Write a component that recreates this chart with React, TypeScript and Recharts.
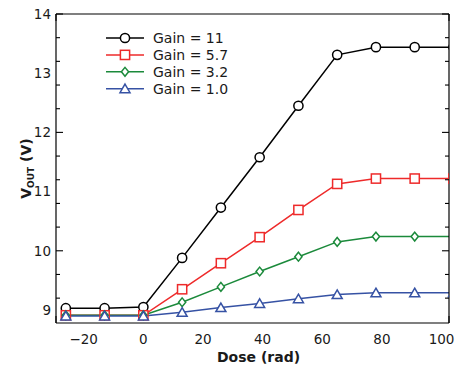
import { LineChart, Line, XAxis, YAxis, Legend } from 'recharts';

// last dose lies past the right frame: the flat lines run out to the edge
const dose = [-26, -13, 0, 13, 26, 39, 52, 65, 78, 91, 104];
const gain11 = [9.03, 9.03, 9.05, 9.88, 10.73, 11.58, 12.45, 13.31, 13.44, 13.44, 13.44];
const gain57 = [8.91, 8.91, 8.91, 9.35, 9.79, 10.23, 10.69, 11.13, 11.22, 11.22, 11.22];
const gain32 = [8.91, 8.91, 8.91, 9.13, 9.39, 9.65, 9.9, 10.15, 10.24, 10.24, 10.24];
const gain10 = [8.9, 8.9, 8.9, 8.96, 9.04, 9.11, 9.19, 9.26, 9.29, 9.29, 9.29];

const xMajor = [-20, 0, 20, 40, 60, 80, 100];
const xMinor = [-20, -10, 0, 10, 20, 30, 40, 50, 60, 70, 80, 90, 100];
const yMajor = [9, 10, 11, 12, 13, 14];
const yMinor = [9, 9.2, 9.4, 9.6, 9.8, 10, 10.2, 10.4, 10.6, 10.8, 11, 11.2, 11.4, 11.6, 11.8, 12, 12.2, 12.4, 12.6, 12.8, 13, 13.2, 13.4, 13.6, 13.8, 14];

const X_DOMAIN = [-29.3, 102.5];
const Y_DOMAIN = [8.78, 14];
const FONT = '"DejaVu Sans", sans-serif';

const SERIES = [
  { key: 'g11', name: 'Gain = 11', color: '#000000', shape: 'circle' },
  { key: 'g57', name: 'Gain = 5.7', color: '#ee2a2a', shape: 'square' },
  { key: 'g32', name: 'Gain = 3.2', color: '#1b8a3b', shape: 'diamond' },
  { key: 'g10', name: 'Gain = 1.0', color: '#3652a4', shape: 'triangle' },
];

const data = dose.map((d, i) => ({ dose: d, g11: gain11[i], g57: gain57[i], g32: gain32[i], g10: gain10[i] }));

function Marker({ shape, color, cx, cy }: { shape: string; color: string; cx: number; cy: number }) {
  const common = { fill: '#fff', stroke: color, strokeWidth: 1.5 };
  if (shape === 'circle') return <circle cx={cx} cy={cy} r={4.6} {...common} />;
  if (shape === 'square') return <rect x={cx - 4.6} y={cy - 4.6} width={9.2} height={9.2} {...common} />;
  if (shape === 'diamond')
    return <polygon points={`${cx},${cy - 4.4} ${cx + 3.6},${cy} ${cx},${cy + 4.4} ${cx - 3.6},${cy}`} {...common} />;
  return <polygon points={`${cx},${cy - 4.6} ${cx + 5},${cy + 4} ${cx - 5},${cy + 4}`} {...common} />;
}

function LegendBox() {
  return (
    <svg width={150} height={72}>
      {SERIES.map((s, i) => {
        const y = 10 + i * 16.9;
        return (
          <g key={s.key}>
            <line x1={6} x2={44} y1={y} y2={y} stroke={s.color} strokeWidth={1.5} />
            <Marker shape={s.shape} color={s.color} cx={25} cy={y} />
            <text x={53} y={y + 5} fontSize={14} fontFamily={FONT} fill="#1a1a1a">{s.name}</text>
          </g>
        );
      })}
    </svg>
  );
}

// inward tick marks, long on the major values, short elsewhere
function makeTick(dir: 'up' | 'down' | 'left' | 'right', majors: number[]) {
  return (p: any) => {
    const len = majors.includes(p.payload.value) ? 7 : 4;
    const dx = dir === 'right' ? len : dir === 'left' ? -len : 0;
    const dy = dir === 'down' ? len : dir === 'up' ? -len : 0;
    return <line x1={p.x} y1={p.y} x2={p.x + dx} y2={p.y + dy} stroke="#000" strokeWidth={1.1} />;
  };
}

function YLabel(props: any) {
  const vb = props.viewBox || { x: 0, y: 0, width: 56, height: 309 };
  const cx = vb.x + 26;
  const cy = vb.y + vb.height / 2;
  return (
    <text transform={`translate(${cx},${cy}) rotate(-90)`} textAnchor="middle" fontFamily={FONT} fontWeight="bold" fill="#1a1a1a" dy={5}>
      <tspan fontSize={14}>V</tspan>
      <tspan fontSize={9} dy={3}>OUT</tspan>
      <tspan fontSize={14} dy={-3}> (V)</tspan>
    </text>
  );
}

function XLabel(props: any) {
  const vb = props.viewBox || { x: 56, y: 323, width: 393, height: 45 };
  return (
    <text x={vb.x + vb.width / 2 + 6} y={vb.y + 39} textAnchor="middle" fontFamily={FONT} fontWeight="bold" fontSize={14} fill="#1a1a1a">
      Dose (rad)
    </text>
  );
}

export default function App() {
  const tickStyle = { fontSize: 13.5, fontFamily: FONT, fill: '#1a1a1a' };
  const edge = { stroke: '#000', strokeWidth: 1.2 };
  return (
    <div style={{ position: 'absolute', left: 0, top: 0 }}>
      <LineChart width={461} height={368} data={data} margin={{ top: 14, right: 12, bottom: 0, left: 0 }}>
        <XAxis xAxisId="x" dataKey="dose" type="number" domain={X_DOMAIN} allowDataOverflow ticks={xMajor}
          tickLine={false} tickSize={0} tickMargin={11} axisLine={edge} tick={tickStyle} height={45}
          tickFormatter={(v: number) => String(v).replace('-', '\u2212')} label={<XLabel />} />
        <XAxis xAxisId="xb" type="number" domain={X_DOMAIN} allowDataOverflow ticks={xMinor} orientation="bottom" mirror
          height={1} axisLine={false} tickLine={false} tickSize={0} tickMargin={0} tick={makeTick('up', xMajor)} />
        <XAxis xAxisId="xt" type="number" domain={X_DOMAIN} allowDataOverflow ticks={xMinor} orientation="top" mirror
          height={1} axisLine={edge} tickLine={false} tickSize={0} tickMargin={0} tick={makeTick('down', xMajor)} />

        <YAxis yAxisId="y" type="number" domain={Y_DOMAIN} allowDataOverflow ticks={yMajor} width={56}
          tickLine={false} tickSize={0} tickMargin={5} axisLine={edge} tick={tickStyle} label={<YLabel />} />
        <YAxis yAxisId="yl" type="number" domain={Y_DOMAIN} allowDataOverflow ticks={yMinor} orientation="left" mirror
          width={1} axisLine={false} tickLine={false} tickSize={0} tickMargin={0} tick={makeTick('right', yMajor)} />
        <YAxis yAxisId="yr" type="number" domain={Y_DOMAIN} allowDataOverflow ticks={yMinor} orientation="right" mirror
          width={1} axisLine={edge} tickLine={false} tickSize={0} tickMargin={0} tick={makeTick('left', yMajor)} />

        <Legend content={<LegendBox />} layout="vertical" verticalAlign="middle" align="center"
          wrapperStyle={{ position: 'absolute', left: 100, top: 28, width: 150 }} />

        {SERIES.map((s) => (
          <Line key={s.key} xAxisId="x" yAxisId="y" dataKey={s.key} name={s.name} stroke={s.color} strokeWidth={1.5}
            isAnimationActive={false}
            dot={(p: any) => <Marker key={`${s.key}-${p.index}`} shape={s.shape} color={s.color} cx={p.cx} cy={p.cy} />}
            activeDot={false} />
        ))}
      </LineChart>
    </div>
  );
}
